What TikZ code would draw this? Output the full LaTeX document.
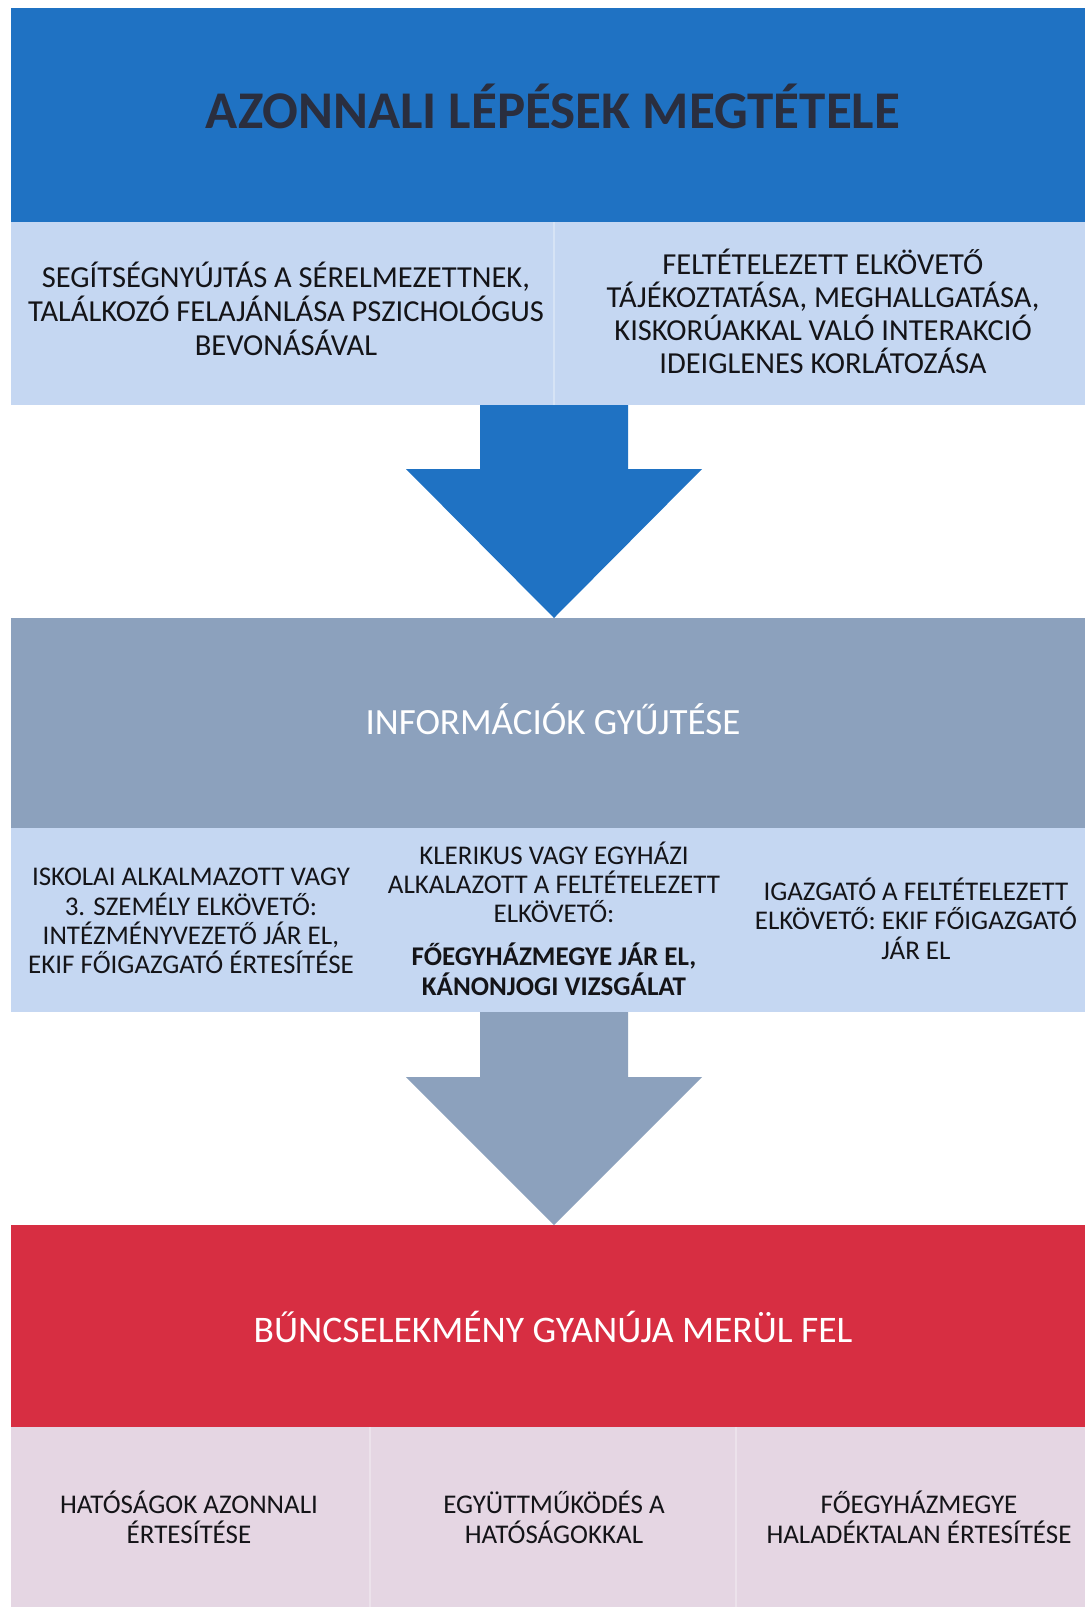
\documentclass[tikz,border=0pt]{standalone}
\usepackage{fontspec}
\setmainfont{Carlito}
\usetikzlibrary{calc}
\definecolor{hdrblue}{RGB}{31,114,195}
\definecolor{hdrtext}{RGB}{42,46,62}
\definecolor{lightblue}{RGB}{197,215,242}
\definecolor{grayblue}{RGB}{140,161,189}
\definecolor{crimson}{RGB}{215,46,66}
\definecolor{lightpink}{RGB}{229,214,227}
\definecolor{ink}{RGB}{20,20,24}
\begin{document}
\begin{tikzpicture}[x=1pt,y=-1pt,
  cell/.style={rectangle,draw=none,inner sep=0pt,outer sep=0pt},
  label/.style={inner sep=0pt,outer sep=0pt,anchor=base,align=center,text=ink},
  divider/.style={draw=white,opacity=0.3,line width=1.5pt}]
\useasboundingbox[fill=white] (0,0) rectangle (1085,1607);
% bands
\node[cell,fill=hdrblue,minimum width=1074pt,minimum height=214pt] (hdr) at (548,115) {};
\node[cell,fill=lightblue,minimum width=543pt,minimum height=183pt] (b1l) at (282.5,313.5) {};
\node[cell,fill=lightblue,minimum width=531pt,minimum height=183pt] (b1r) at (819.5,313.5) {};
\node[cell,fill=grayblue,minimum width=1074pt,minimum height=210pt] (gray) at (548,723) {};
\node[cell,fill=lightblue,minimum width=361pt,minimum height=184pt] (b2l) at (191.5,920) {};
\node[cell,fill=lightblue,minimum width=364pt,minimum height=184pt] (b2m) at (554,920) {};
\node[cell,fill=lightblue,minimum width=349pt,minimum height=184pt] (b2r) at (910.5,920) {};
\node[cell,fill=crimson,minimum width=1074pt,minimum height=202pt] (red) at (548,1326) {};
\node[cell,fill=lightpink,minimum width=359pt,minimum height=180pt] (pl) at (190.5,1517) {};
\node[cell,fill=lightpink,minimum width=366pt,minimum height=180pt] (pm) at (553,1517) {};
\node[cell,fill=lightpink,minimum width=349pt,minimum height=180pt] (pr) at (910.5,1517) {};
% dividers
\draw[divider] (b1l.north east) -- (b1l.south east);
\draw[divider] (pl.north east) -- (pl.south east);
\draw[divider] (pm.north east) -- (pm.south east);
% arrows
\coordinate (a1top) at (b1l.south east);
\coordinate (a1tip) at (a1top |- gray.north);
\fill[hdrblue] ($(a1top)+(-74,0)$) -- ($(a1top)+(74,0)$) -- ($(a1top)+(74,64)$) -- ($(a1top)+(148,64)$)
  -- (a1tip) -- ($(a1top)+(-148,64)$) -- ($(a1top)+(-74,64)$) -- cycle;
\coordinate (a2top) at (b2m.south);
\coordinate (a2tip) at (a2top |- red.north);
\fill[grayblue] ($(a2top)+(-74,0)$) -- ($(a2top)+(74,0)$) -- ($(a2top)+(74,65)$) -- ($(a2top)+(148,65)$)
  -- (a2tip) -- ($(a2top)+(-148,65)$) -- ($(a2top)+(-74,65)$) -- cycle;
% texts (anchor base = baseline of last line)
\node[label,text=hdrtext,font=\bfseries\fontsize{53}{58}\selectfont] (t0) at (553,128) {AZONNALI LÉPÉSEK MEGTÉTELE};
\node[label,font=\fontsize{30.5}{33.8}\selectfont] (t1l) at (286,355.5) {SEGÍTSÉGNYÚJTÁS A SÉRELMEZETTNEK,\\TALÁLKOZÓ FELAJÁNLÁSA PSZICHOLÓGUS\\BEVONÁSÁVAL};
\node[label,font=\fontsize{30.5}{32.8}\selectfont] (t1r) at (823,373) {FELTÉTELEZETT ELKÖVETŐ\\TÁJÉKOZTATÁSA, MEGHALLGATÁSA,\\KISKORÚAKKAL VALÓ INTERAKCIÓ\\IDEIGLENES KORLÁTOZÁSA};
\node[label,text=white,font=\fontsize{37}{42}\selectfont] (tg) at (553,734) {INFORMÁCIÓK GYŰJTÉSE};
\node[label,font=\fontsize{27}{29.2}\selectfont] (t2l) at (191,973.5) {ISKOLAI ALKALMAZOTT VAGY\\3. SZEMÉLY ELKÖVETŐ:\\INTÉZMÉNYVEZETŐ JÁR EL,\\EKIF FŐIGAZGATÓ ÉRTESÍTÉSE};
\node[label,font=\fontsize{27}{29.2}\selectfont] (t2m) at (554,995) {KLERIKUS VAGY EGYHÁZI\\ALKALAZOTT A FELTÉTELEZETT\\ELKÖVETŐ:\\[14pt]\textbf{FŐEGYHÁZMEGYE JÁR EL,}\\\textbf{KÁNONJOGI VIZSGÁLAT}};
\node[label,font=\fontsize{27}{29.2}\selectfont] (t2r) at (916,959) {IGAZGATÓ A FELTÉTELEZETT\\ELKÖVETŐ: EKIF FŐIGAZGATÓ\\JÁR EL};
\node[label,text=white,font=\fontsize{37.5}{42}\selectfont] (tr) at (553,1342) {BŰNCSELEKMÉNY GYANÚJA MERÜL FEL};
\node[label,font=\fontsize{27}{29.7}\selectfont] (tpl) at (189,1543) {HATÓSÁGOK AZONNALI\\ÉRTESÍTÉSE};
\node[label,font=\fontsize{27}{29.7}\selectfont] (tpm) at (554,1543) {EGYÜTTMŰKÖDÉS A\\HATÓSÁGOKKAL};
\node[label,font=\fontsize{27}{29.7}\selectfont] (tpr) at (919,1543) {FŐEGYHÁZMEGYE\\HALADÉKTALAN ÉRTESÍTÉSE};
\end{tikzpicture}
\end{document}
